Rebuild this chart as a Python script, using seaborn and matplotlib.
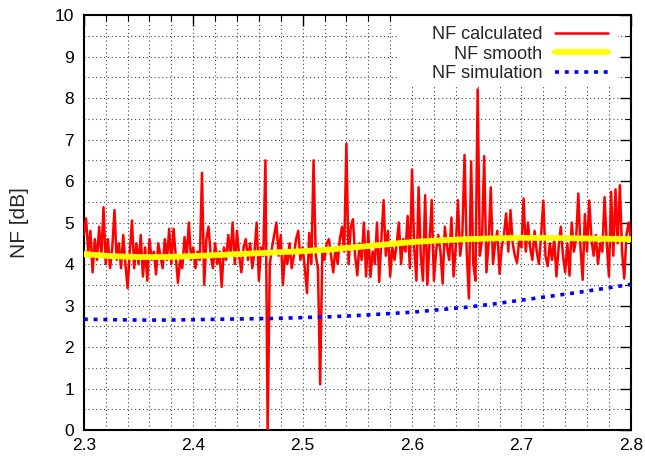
import numpy as np
import pandas as pd
import matplotlib
matplotlib.use("Agg")
import matplotlib.pyplot as plt
from matplotlib.ticker import MultipleLocator
from matplotlib.patches import Rectangle
import seaborn as sns

# ---- data ----
x_start, x_step = 2.300, 0.002
nf_calculated = [
    4.7, 5.1, 4.3, 4.8, 3.8, 4.6, 4.1, 4.9, 4.2, 5.37,
    4.0, 4.6, 3.9, 4.4, 5.3, 4.1, 4.5, 3.9, 4.7, 4.0,
    3.42, 4.3, 5.05, 3.9, 4.5, 4.0, 4.7, 3.7, 4.4, 3.6,
    4.6, 4.1, 4.3, 3.75, 4.5, 4.2, 3.9, 4.6, 4.1, 4.85,
    4.0, 4.85, 4.2, 3.55, 4.1, 3.9, 4.65, 4.2, 5.0, 4.1,
    4.4, 3.9, 4.3, 4.1, 6.2, 3.5, 4.6, 4.9, 4.2, 3.9,
    4.5, 4.0, 4.3, 3.45, 4.4, 4.1, 4.7, 4.2, 5.0, 4.0,
    4.8, 4.2, 3.8, 4.4, 4.6, 4.1, 4.5, 3.9, 4.3, 5.0,
    3.6, 4.4, 4.2, 6.5, 0.0, 4.0, 4.4, 4.7, 5.0, 4.2,
    4.7, 3.5, 4.3, 4.0, 4.5, 3.9, 4.2, 4.6, 4.8, 4.1,
    4.4, 3.9, 3.3, 4.75, 4.0, 6.5, 4.2, 3.9, 1.1, 4.3,
    4.1, 4.5, 4.6, 4.2, 3.8, 4.4, 4.0, 4.6, 4.9, 4.3,
    6.9, 4.0, 4.9, 5.08, 4.2, 3.73, 4.5, 4.1, 5.0, 3.7,
    4.8, 3.69, 4.3, 4.0, 5.0, 3.57, 4.6, 5.54, 4.2, 4.8,
    3.7, 4.4, 4.1, 4.5, 5.0, 4.0, 4.6, 4.3, 5.16, 3.9,
    6.28, 4.4, 3.6, 5.85, 4.2, 3.6, 5.66, 3.5, 4.5, 5.54,
    3.6, 4.3, 4.7, 4.3, 3.53, 4.9, 4.4, 4.1, 5.12, 3.7,
    4.4, 5.54, 4.2, 4.7, 6.63, 4.3, 3.17, 6.47, 4.0, 3.6,
    8.21, 4.2, 4.6, 6.6, 3.8, 4.5, 5.85, 4.0, 4.5, 4.8,
    3.77, 4.4, 4.7, 5.22, 4.3, 5.3, 4.5, 4.2, 4.03, 4.6,
    4.4, 5.58, 4.3, 5.0, 4.4, 4.1, 4.8, 4.3, 4.0, 4.7,
    5.53, 4.2, 3.95, 4.5, 4.1, 4.6, 3.7, 4.4, 4.9, 4.2,
    3.8, 4.5, 3.72, 5.0, 4.3, 4.6, 5.7, 4.4, 3.62, 5.2,
    4.3, 5.53, 4.6, 4.2, 4.7, 4.0, 4.5, 4.3, 5.61, 4.5,
    3.7, 5.74, 4.2, 5.80, 4.5, 5.90, 4.3, 3.65, 4.7, 5.0,
    4.6,
]
freq_calc = [round(x_start + i * x_step, 4) for i in range(len(nf_calculated))]

freq_curve = [2.300, 2.325, 2.350, 2.375, 2.400, 2.425, 2.450, 2.475, 2.500, 2.525,
              2.550, 2.575, 2.600, 2.625, 2.650, 2.675, 2.700, 2.725, 2.750, 2.775, 2.800]
nf_smooth = [4.24, 4.19, 4.17, 4.17, 4.19, 4.22, 4.25, 4.28, 4.31, 4.35,
             4.41, 4.47, 4.53, 4.57, 4.60, 4.62, 4.63, 4.63, 4.62, 4.61, 4.60]
nf_simulation = [2.67, 2.66, 2.65, 2.65, 2.66, 2.67, 2.68, 2.69, 2.71, 2.73,
                 2.76, 2.80, 2.84, 2.90, 2.96, 3.04, 3.13, 3.22, 3.31, 3.41, 3.51]

x_ticks = [2.3, 2.4, 2.5, 2.6, 2.7, 2.8]
y_ticks = list(range(0, 11))
y_label = "NF [dB]"
labels = ["NF calculated", "NF smooth", "NF simulation"]

# ---- style ----
sns.set_style("white")
plt.rcParams["font.family"] = ["Liberation Sans", "DejaVu Sans"]
plt.rcParams["font.size"] = 12

fig = plt.figure(figsize=(6.45, 4.57), dpi=100)
ax = fig.add_axes([0.130, 0.059, 0.848, 0.908])

df_calc = pd.DataFrame({"f": freq_calc, "nf": nf_calculated})
df_curve = pd.DataFrame({"f": freq_curve, "smooth": nf_smooth, "sim": nf_simulation})

sns.lineplot(data=df_calc, x="f", y="nf", ax=ax, color="#ff0000", linewidth=1.8,
             label=labels[0], zorder=3)
sns.lineplot(data=df_curve, x="f", y="smooth", ax=ax, color="#ffff00", linewidth=4.2,
             label=labels[1], zorder=4)
sns.lineplot(data=df_curve, x="f", y="sim", ax=ax, color="#0000ff", linewidth=2.6,
             linestyle=(0, (1.1, 1.6)), label=labels[2], zorder=4)

ax.set_xlim(2.3, 2.8)
ax.set_ylim(0, 10)
ax.set_xticks(x_ticks)
ax.set_xticklabels([f"{v:.1f}" for v in x_ticks])
ax.set_yticks(y_ticks)
ax.set_yticklabels([str(v) for v in y_ticks])
ax.xaxis.set_minor_locator(MultipleLocator(0.02))
ax.yaxis.set_minor_locator(MultipleLocator(0.5))

ax.grid(True, which="both", color="#444444", linestyle=(0, (1, 2.5)), linewidth=0.8)
ax.set_axisbelow(True)

# opaque (frameless) key background, as in the reference
ax.add_patch(Rectangle((0.574, 0.829), 0.402, 0.171, transform=ax.transAxes,
                       facecolor="white", edgecolor="none", zorder=1))

ax.tick_params(which="both", direction="in", top=True, right=True, colors="black",
               labelsize=12.5)
ax.tick_params(which="major", length=8, width=1.0)
ax.tick_params(which="minor", length=4, width=0.8)
ax.tick_params(axis="x", pad=6)
ax.tick_params(axis="y", pad=7)

for s in ax.spines.values():
    s.set_color("black")
    s.set_linewidth(1.5)
    s.set_visible(True)

ax.set_xlabel("")
ax.set_ylabel(y_label, fontsize=15)
ax.yaxis.set_label_coords(-0.100, 0.5)

leg = ax.legend(loc="upper right", bbox_to_anchor=(0.958, 0.974), frameon=False,
                markerfirst=False, handlelength=2.95, handletextpad=0.67,
                labelspacing=0.15, borderaxespad=0, borderpad=0, fontsize=13)

fig.savefig("out.png", dpi=100)
